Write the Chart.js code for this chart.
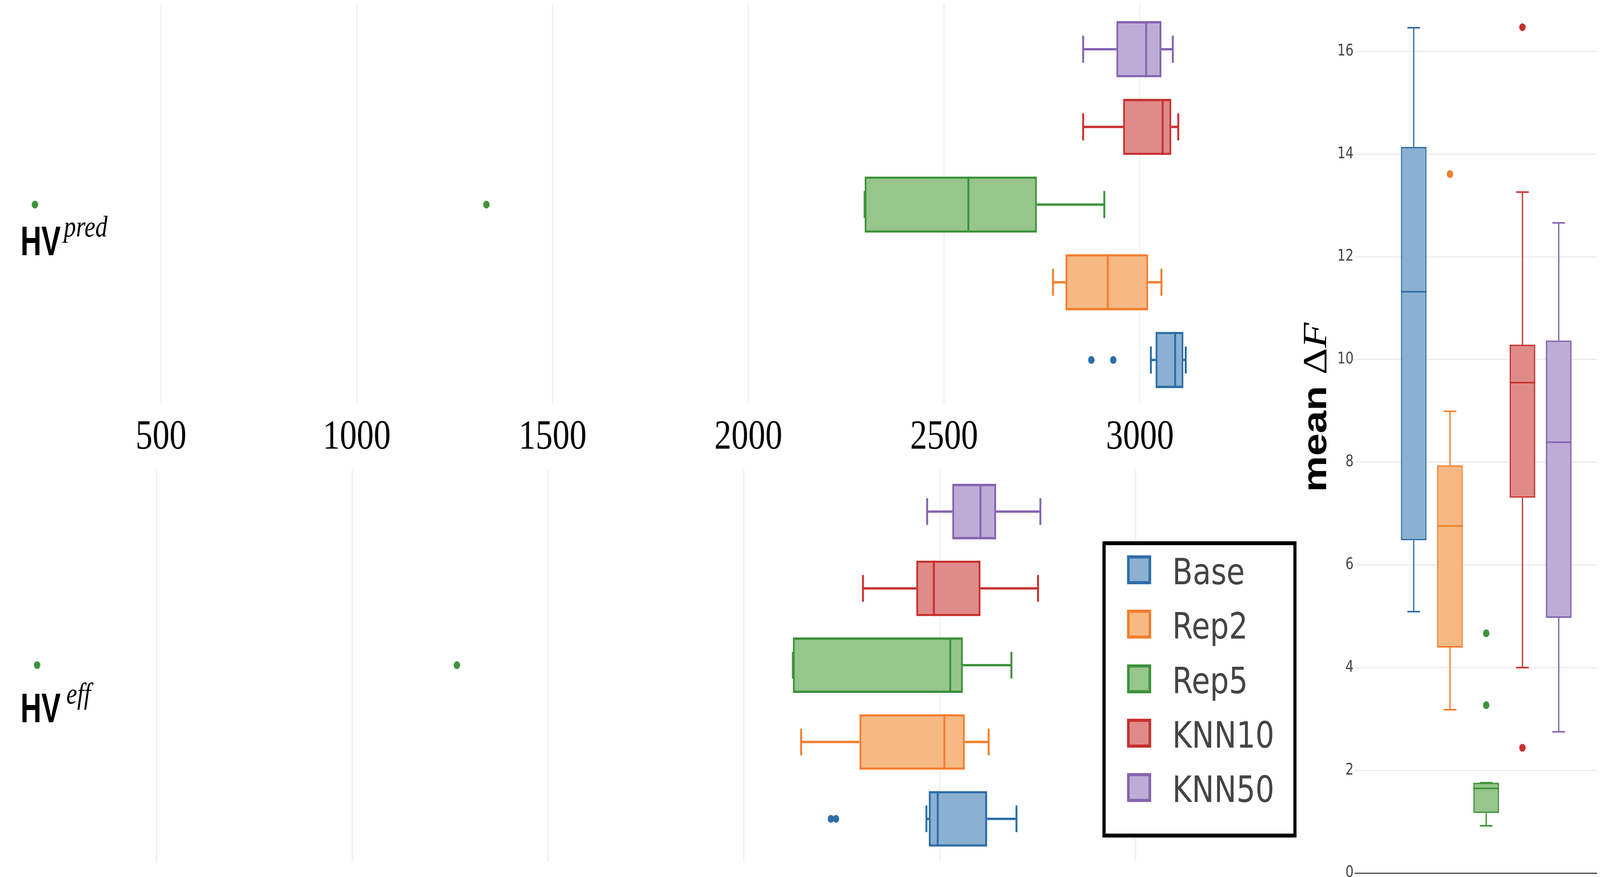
<!DOCTYPE html>
<html><head><meta charset="utf-8">
<script src="https://cdn.jsdelivr.net/npm/chart.js@4.4.1/dist/chart.umd.min.js"></script>
<style>
html,body{margin:0;padding:0;background:#fff;overflow:hidden;}
#outer{position:relative;overflow:hidden;background:#fff;}
#wrap{position:absolute;left:0;top:0;width:4994px;height:2244px;overflow:hidden;background:#fff;transform-origin:0 0;}
canvas{position:absolute;}
.t{position:absolute;white-space:nowrap;color:#000;}
</style></head><body>
<div id="outer">
<div id="wrap">
<canvas id="cTop" style="left:0;top:0;width:3960px;height:1200px"></canvas>
<canvas id="cBot" style="left:0;top:1192px;width:3960px;height:1024px"></canvas>
<canvas id="cRight" style="left:3960px;top:0;width:1034px;height:2244px"></canvas>

<div class="t" style="left:64px;top:557px;font:bold 105px/120px 'Liberation Sans';transform-origin:0 0;transform:scaleX(0.86)">HV</div>
<div class="t" style="left:199px;top:534px;font:italic 76px/90px 'Liberation Serif'">pred</div>
<div class="t" style="left:64px;top:1752px;font:bold 105px/120px 'Liberation Sans';transform-origin:0 0;transform:scaleX(0.86)">HV</div>
<div class="t" style="left:207px;top:1729px;font:italic 76px/90px 'Liberation Serif'">eff</div>

<div class="t" style="left:0;top:0;transform-origin:0 0;transform:translate(4043px,1259px) rotate(-90deg);font:bold 104px/120px 'Liberation Sans'">mean <span style="font-family:'Liberation Serif';font-weight:normal;font-size:106px">Δ<i>F</i></span></div>

<div id="legend" style="position:absolute;left:3441px;top:1385px;width:606px;height:758px;border:10px solid #000;box-sizing:border-box;background:#fff"></div>
</div>
</div>
<script>
// ---------- data ----------
const GROUPS = ['Base', 'Rep2', 'Rep5', 'KNN10', 'KNN50'];
const LINE_COLORS = ['#2d6ea8', '#f47d2c', '#3e923b', '#c7312e', '#8564b0'];
const FILL_COLORS = ['#8bb0d1', '#f7b984', '#96c68c', '#df8b89', '#bdadd6'];

// HV^pred (top panel): whisker low, q1, median, q3, whisker high, outliers
const PRED_LOW  = [3028, 2778, 2297, 2855, 2855];
const PRED_Q1   = [3040, 2810, 2297, 2957, 2940];
const PRED_MED  = [3090, 2918, 2562, 3058, 3016];
const PRED_Q3   = [3111, 3021, 2737, 3080, 3055];
const PRED_HIGH = [3117, 3055, 2909, 3098, 3084];
const PRED_OUT  = [[2876, 2932], [], [178, 1331], [], []];

// HV^eff (bottom panel)
const EFF_LOW  = [2466, 2146, 2125, 2304, 2468];
const EFF_Q1   = [2472, 2295, 2125, 2440, 2532];
const EFF_MED  = [2495, 2512, 2527, 2485, 2604];
const EFF_Q3   = [2621, 2564, 2559, 2604, 2644];
const EFF_HIGH = [2696, 2625, 2683, 2751, 2757];
const EFF_OUT  = [[2222, 2235], [], [195, 1267], [], []];

// mean ΔF (right panel)
const DF_LOW  = [5.09, 3.18, 0.92, 4.00, 2.75];
const DF_Q1   = [6.48, 4.39, 1.17, 7.31, 4.97];
const DF_MED  = [11.32, 6.76, 1.65, 9.55, 8.39];
const DF_Q3   = [14.14, 7.94, 1.76, 10.29, 10.37];
const DF_HIGH = [16.46, 8.99, 1.76, 13.26, 12.66];
const DF_OUT  = [[], [13.61], [4.67, 3.27], [16.47, 2.44], []];

const HV_TICKS = [500, 1000, 1500, 2000, 2500, 3000];
const DF_TICKS = [0, 2, 4, 6, 8, 10, 12, 14, 16];

// ---------- fit the 4994x2244 design into the actual window ----------
const W = 4994, H = 2244;
const vw = window.innerWidth || W, vh = window.innerHeight || H;
const SX = vw / W, SY = vh / H;
const outer = document.getElementById('outer');
outer.style.width = vw + 'px';
outer.style.height = vh + 'px';
document.getElementById('wrap').style.transform = `scale(${SX}, ${SY})`;
const DPR = Math.max(1, Math.max(SX, SY) * (window.devicePixelRatio || 1));

// ---------- helpers ----------
const gap = () => ({x: null, y: null});
function buildDatasets(low, q1, med, q3, high, outl, horizontal, boxFrac, capHalf, lw) {
  const pt = horizontal ? (v, c) => ({x: v, y: c}) : (v, c) => ({x: c, y: v});
  const ds = [{
    type: 'bar',
    data: GROUPS.map((g, k) => horizontal ? {x: [q1[k], q3[k]], y: k} : {x: k, y: [q1[k], q3[k]]}),
    backgroundColor: FILL_COLORS, borderColor: LINE_COLORS, borderWidth: lw, borderSkipped: false,
    categoryPercentage: 1, barPercentage: boxFrac, order: 3
  }];
  const bh = boxFrac / 2;
  GROUPS.forEach((g, k) => {
    ds.push({
      type: 'line',
      data: [pt(low[k], k), pt(q1[k], k), gap(), pt(q3[k], k), pt(high[k], k), gap(),
             pt(low[k], k - capHalf), pt(low[k], k + capHalf), gap(),
             pt(high[k], k - capHalf), pt(high[k], k + capHalf), gap(),
             pt(med[k], k - bh), pt(med[k], k + bh)],
      borderColor: LINE_COLORS[k], borderWidth: lw, pointRadius: 0, fill: false,
      spanGaps: false, tension: 0, order: 2
    });
    if (outl[k].length) {
      ds.push({type: 'scatter', data: outl[k].map(v => pt(v, k)),
        backgroundColor: LINE_COLORS[k], borderWidth: 0, pointRadius: 10, order: 1});
    }
  });
  return ds;
}
const catTicks = s => { s.ticks = GROUPS.map((g, k) => ({value: k})); };
const common = {
  responsive: false, animation: false, devicePixelRatio: DPR, events: [],
  layout: {padding: 0},
  plugins: {legend: {display: false}, tooltip: {enabled: false}, title: {display: false}}
};

function hvChart(id, data, xMin, xMax, yMin, yMax, showLabels, axisH) {
  new Chart(document.getElementById(id), {
    type: 'bar',
    data: {datasets: buildDatasets(...data, true, 0.7225, 0.174, 6)},
    options: Object.assign({}, common, {
      indexAxis: 'y',
      scales: {
        x: {type: 'linear', min: xMin, max: xMax, offset: false, position: 'bottom',
          afterBuildTicks: s => { s.ticks = HV_TICKS.map(v => ({value: v})); },
          afterFit: s => { s.height = axisH; s.paddingLeft = 0; s.paddingRight = 0; },
          grid: {color: '#ebebeb', lineWidth: 3, drawTicks: false, offset: false},
          border: {display: false},
          ticks: {display: showLabels, color: '#000', padding: 26, maxRotation: 0, autoSkip: false,
            callback: v => String(v),
            font: {family: 'Liberation Serif', size: 106}}},
        y: {type: 'linear', min: yMin, max: yMax, display: false, offset: false,
          afterBuildTicks: catTicks, grid: {offset: false}}
      }
    })
  });
}

hvChart('cTop', [PRED_LOW, PRED_Q1, PRED_MED, PRED_Q3, PRED_HIGH, PRED_OUT], 97.0, 3320.8, -0.553, 4.583, true, 169);
hvChart('cBot', [EFF_LOW, EFF_Q1, EFF_MED, EFF_Q3, EFF_HIGH, EFF_OUT], 108.4, 3332, -0.564, 4.544, false, 0);

new Chart(document.getElementById('cRight'), {
  type: 'bar',
  data: {datasets: buildDatasets(DF_LOW, DF_Q1, DF_MED, DF_Q3, DF_HIGH, DF_OUT, false, 0.707, 0.175, 4)},
  options: Object.assign({}, common, {
    indexAxis: 'x',
    scales: {
      x: {type: 'linear', min: -1.623, max: 5.052, offset: false,
        afterBuildTicks: catTicks,
        afterFit: s => { s.height = 9; s.paddingLeft = 0; s.paddingRight = 0; },
        ticks: {display: false},
        grid: {display: true, drawOnChartArea: false, drawTicks: false, offset: false},
        border: {display: true, color: '#444', width: 3}},
      y: {type: 'linear', min: 0, max: 16.924,
        afterBuildTicks: s => { s.ticks = DF_TICKS.map(v => ({value: v})); },
        afterFit: s => { s.width = 269; s.paddingTop = 0; s.paddingBottom = 0; },
        grid: {color: '#ebebeb', lineWidth: 3, drawTicks: false},
        border: {display: false},
        ticks: {color: '#444', padding: 4, callback: v => String(v),
          font: {family: 'DejaVu Sans', size: 40}}}
    }
  })
});

// ---------- legend ----------
const wrap = document.getElementById('wrap');
GROUPS.forEach((g, i) => {
  const sw = document.createElement('div');
  sw.style.cssText = `position:absolute;left:3518px;top:${1421 + 139.3 * i}px;width:75px;height:74px;box-sizing:border-box;border:8px solid ${LINE_COLORS[i]};background:${FILL_COLORS[i]}`;
  wrap.appendChild(sw);
  const tx = document.createElement('div');
  tx.className = 't';
  tx.textContent = g;
  tx.style.cssText += `left:3659px;top:${1495 + 139.3 * i - 87}px;font:93px/110px 'DejaVu Sans';color:#444`;
  wrap.appendChild(tx);
});
</script>
</body></html>
